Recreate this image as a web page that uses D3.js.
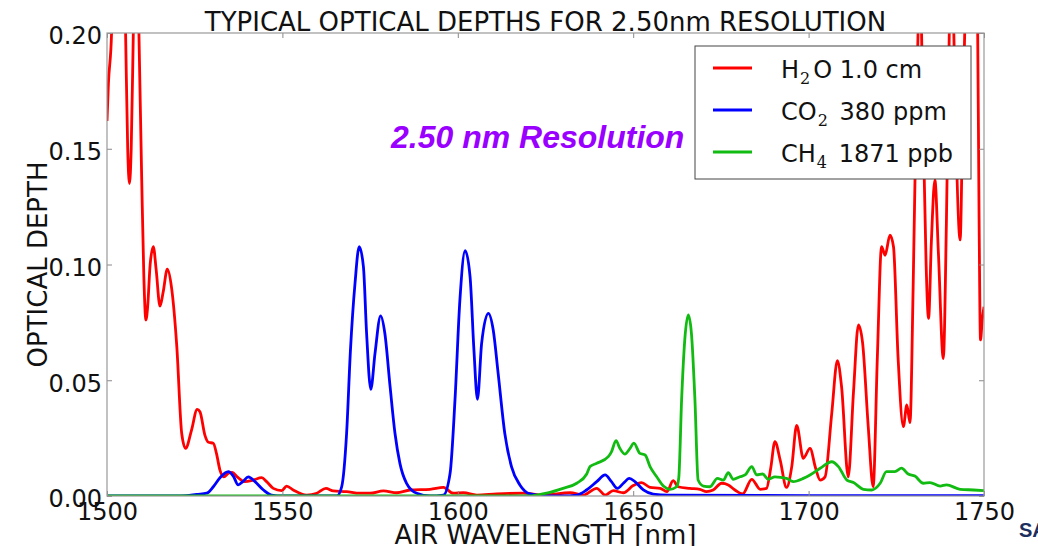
<!DOCTYPE html>
<html>
<head>
<meta charset="utf-8">
<script src="https://cdn.jsdelivr.net/npm/d3@7"></script>
<style>
  body { margin: 0; background: #fff; }
  svg { display: block; }
</style>
</head>
<body>
<div id="chart"></div>
<script>

// wavelength [nm] and optical depth for each gas
var h2oNm = [1500.0, 1500.4, 1501.3, 1502.0, 1503.2, 1504.5, 1505.3, 1505.9, 1506.4, 1506.9, 1507.5, 1508.3, 1509.1, 1509.9, 1510.5, 1511.1, 1511.6, 1512.3, 1513.2, 1514.0, 1515.1, 1516.0, 1517.2, 1518.4, 1519.9, 1521.3, 1522.4, 1524.1, 1525.7, 1526.5, 1527.9, 1528.9, 1530.3, 1531.2, 1532.2, 1533.3, 1534.6, 1535.7, 1537.1, 1539.3, 1541.7, 1544.1, 1545.5, 1547.4, 1549.8, 1551.2, 1553.1, 1556.9, 1559.8, 1562.4, 1564.5, 1568.3, 1572.0, 1575.0, 1578.8, 1582.6, 1586.4, 1592.1, 1595.9, 1598.7, 1601.6, 1605.4, 1611.1, 1618.7, 1624.4, 1632.0, 1635.8, 1639.6, 1642.0, 1644.3, 1647.2, 1650.0, 1652.4, 1654.8, 1657.7, 1659.6, 1661.4, 1662.8, 1666.2, 1669.0, 1670.9, 1672.8, 1675.2, 1677.1, 1679.0, 1681.2, 1683.8, 1686.2, 1688.0, 1689.2, 1690.4, 1691.9, 1693.7, 1695.2, 1696.6, 1698.5, 1700.4, 1702.0, 1703.3, 1704.7, 1706.6, 1708.2, 1709.4, 1711.3, 1712.8, 1714.2, 1715.4, 1717.0, 1718.4, 1719.6, 1720.8, 1721.8, 1723.2, 1724.2, 1725.5, 1727.0, 1728.0, 1728.9, 1729.8, 1730.6, 1731.2, 1731.7, 1732.2, 1732.8, 1733.5, 1734.2, 1735.0, 1736.0, 1737.0, 1738.4, 1739.3, 1740.1, 1740.8, 1741.4, 1742.1, 1743.2, 1743.9, 1744.5, 1746.5, 1748.2, 1748.6, 1749.0, 1749.5, 1750.0];
var h2oOD = [0.162, 0.178, 0.200, 0.26, 0.32, 0.26, 0.200, 0.150, 0.135, 0.150, 0.200, 0.27, 0.200, 0.1365, 0.095, 0.076, 0.082, 0.100, 0.1077, 0.098, 0.082, 0.088, 0.098, 0.090, 0.0645, 0.027, 0.0206, 0.0285, 0.0374, 0.0364, 0.0263, 0.0232, 0.0228, 0.0184, 0.0112, 0.0083, 0.0098, 0.0102, 0.0083, 0.0062, 0.0069, 0.0079, 0.0062, 0.0033, 0.0023, 0.0043, 0.0026, 0.0004, 0.0012, 0.0033, 0.0022, 0.0019, 0.0012, 0.0012, 0.0022, 0.0014, 0.0026, 0.0029, 0.0037, 0.0012, 0.0014, 0.0004, 0.0009, 0.0012, 0.0004, 0.0014, 0.0004, 0.0033, 0.0004, 0.0023, 0.0014, 0.0045, 0.0058, 0.0037, 0.0033, 0.0019, 0.0066, 0.0040, 0.0033, 0.0029, 0.0019, 0.0026, 0.0055, 0.0048, 0.0026, 0.0009, 0.0072, 0.0029, 0.0033, 0.012, 0.0235, 0.0155, 0.0037, 0.0127, 0.0305, 0.0163, 0.0206, 0.012, 0.0069, 0.0083, 0.0357, 0.0585, 0.0472, 0.0083, 0.045, 0.0739, 0.066, 0.030, 0.004, 0.06, 0.1077, 0.104, 0.1127, 0.1077, 0.06, 0.030, 0.0393, 0.0317, 0.09, 0.16, 0.200, 0.24, 0.200, 0.15, 0.10, 0.0767, 0.11, 0.1365, 0.105, 0.0594, 0.12, 0.200, 0.25, 0.200, 0.15, 0.1106, 0.16, 0.200, 0.30, 0.200, 0.12, 0.0674, 0.076, 0.0818];

var co2Nm = [1500.0, 1520.0, 1522.7, 1525.5, 1528.4, 1530.3, 1532.2, 1534.6, 1536.0, 1537.4, 1538.7, 1540.3, 1542.2, 1544.6, 1546.9, 1550.0, 1565.5, 1566.9, 1568.3, 1569.4, 1570.7, 1571.9, 1573.1, 1574.0, 1575.2, 1576.4, 1578.0, 1579.2, 1580.7, 1582.1, 1583.5, 1585.4, 1588.3, 1592.1, 1595.9, 1597.8, 1599.2, 1600.6, 1602.1, 1603.5, 1604.6, 1605.6, 1606.8, 1608.7, 1610.1, 1611.5, 1613.4, 1615.3, 1617.7, 1620.6, 1625.3, 1630.0, 1633.9, 1636.7, 1639.6, 1642.0, 1643.8, 1645.5, 1647.2, 1648.9, 1650.5, 1652.9, 1655.7, 1660.0, 1700.0, 1750.0];
var co2OD = [0, 0, 0.0001, 0.0007, 0.0012, 0.004, 0.0079, 0.0105, 0.0086, 0.0048, 0.0062, 0.0083, 0.0062, 0.0026, 0.0004, 0, 0, 0.004, 0.027, 0.063, 0.0919, 0.1077, 0.099, 0.0703, 0.0461, 0.0616, 0.0778, 0.0703, 0.0472, 0.027, 0.0141, 0.0055, 0.0012, 0, 0.0004, 0.0098, 0.0415, 0.0847, 0.106, 0.0947, 0.063, 0.0418, 0.066, 0.0789, 0.0717, 0.053, 0.027, 0.0127, 0.0048, 0.0009, 0, 0, 0.0004, 0.0026, 0.0062, 0.0091, 0.0062, 0.0033, 0.0055, 0.0076, 0.0062, 0.0026, 0.0008, 0.0004, 0.0002, 0.0001];

var ch4Nm = [1500.0, 1620.0, 1622.6, 1625.3, 1630.0, 1633.9, 1636.7, 1637.7, 1639.6, 1642.9, 1643.8, 1645.1, 1646.2, 1647.6, 1649.1, 1650.2, 1651.9, 1653.4, 1654.8, 1656.7, 1658.6, 1660.5, 1662.4, 1663.0, 1663.8, 1664.7, 1665.7, 1666.6, 1667.6, 1668.5, 1670.0, 1671.9, 1674.0, 1675.7, 1677.1, 1678.5, 1680.4, 1681.9, 1683.8, 1685.2, 1686.9, 1688.5, 1690.4, 1693.7, 1695.6, 1698.5, 1700.4, 1703.3, 1706.6, 1708.5, 1710.9, 1712.8, 1715.6, 1718.0, 1720.4, 1722.2, 1724.6, 1726.5, 1728.4, 1730.3, 1732.7, 1734.6, 1737.5, 1739.3, 1743.2, 1747.0, 1750.0];
var ch4OD = [0, 0, 0.0004, 0.0012, 0.0033, 0.0055, 0.0094, 0.0127, 0.0141, 0.017, 0.0191, 0.0239, 0.0206, 0.0181, 0.0206, 0.0228, 0.0184, 0.0177, 0.0127, 0.0083, 0.0043, 0.0029, 0.004, 0.008, 0.0415, 0.0674, 0.0782, 0.0703, 0.0415, 0.0069, 0.0043, 0.004, 0.0076, 0.0069, 0.0101, 0.0072, 0.0083, 0.0091, 0.0127, 0.0091, 0.0095, 0.0072, 0.0083, 0.0076, 0.0062, 0.0076, 0.0091, 0.012, 0.0148, 0.0127, 0.0069, 0.0058, 0.0029, 0.0026, 0.0055, 0.0105, 0.0105, 0.012, 0.0095, 0.0086, 0.0055, 0.0058, 0.0043, 0.0048, 0.0029, 0.0026, 0.0023];

// legend text: molecule letters, subscript digit, amount
var gasNames = ["H", "CO", "CH"];
var gasSubs = ["2", "2", "4"];
var gasAfter = ["O 1.0 cm", " 380 ppm", " 1871 ppb"];
var gasColors = ["#ff0000", "#0000ff", "#11bb11"];

var xTicks = [1500, 1550, 1600, 1650, 1700, 1750];
var yTicks = [0, 0.05, 0.10, 0.15, 0.20];

var W = 1038, H = 546;
var margin = {top: 33, right: 54, bottom: 50, left: 107},
    width = W - margin.left - margin.right,
    height = H - margin.top - margin.bottom;

var font = "'DejaVu Sans', sans-serif";

var x = d3.scaleLinear().domain([1500, 1750]).range([0, width]);
var y = d3.scaleLinear().domain([0, 0.2]).range([height, 0]);

var svg = d3.select("#chart").append("svg")
    .attr("width", W)
    .attr("height", H);

svg.append("defs").append("clipPath")
    .attr("id", "plotclip")
  .append("rect")
    .attr("width", width)
    .attr("height", height);

var g = svg.append("g")
    .attr("transform", "translate(" + margin.left + "," + margin.top + ")");

// the three curves, clipped at the axes like matplotlib does
var line = d3.line()
    .x(function(d) { return x(d[0]); })
    .y(function(d) { return y(d[1]); })
    .curve(d3.curveMonotoneX);

var series = [d3.zip(h2oNm, h2oOD), d3.zip(co2Nm, co2OD), d3.zip(ch4Nm, ch4OD)];

g.append("g")
    .attr("clip-path", "url(#plotclip)")
  .selectAll("path")
  .data(series)
  .enter().append("path")
    .attr("d", line)
    .attr("fill", "none")
    .attr("stroke", function(d, i) { return gasColors[i]; })
    .attr("stroke-width", 2.8)
    .attr("stroke-linejoin", "round");

// axes, ticks pointing inwards on all four sides
function styleAxis(sel) {
  sel.select(".domain").remove();
  sel.selectAll(".tick line").attr("stroke", "#888");
  sel.selectAll("text")
      .attr("fill", "#111")
      .attr("font-family", font)
      .attr("font-size", 24);
}

g.append("g")
    .attr("transform", "translate(0," + height + ")")
    .call(d3.axisBottom(x).tickValues(xTicks).tickFormat(d3.format("d")).tickSize(-5).tickPadding(7))
    .call(styleAxis);

g.append("g")
    .call(d3.axisTop(x).tickValues(xTicks).tickFormat("").tickSize(-5))
    .call(styleAxis);

g.append("g")
    .call(d3.axisLeft(y).tickValues(yTicks).tickFormat(d3.format(".2f")).tickSize(-5).tickPadding(5))
    .call(styleAxis)
    .selectAll("text").attr("dy", "0.45em");

g.append("g")
    .attr("transform", "translate(" + width + ",0)")
    .call(d3.axisRight(y).tickValues(yTicks).tickFormat("").tickSize(-5))
    .call(styleAxis);

// frame
g.append("rect")
    .attr("width", width)
    .attr("height", height)
    .attr("fill", "none")
    .attr("stroke", "#999")
    .attr("stroke-width", 1.2);

// titles
svg.append("text")
    .attr("x", margin.left + width / 2)
    .attr("y", 31)
    .attr("text-anchor", "middle")
    .attr("font-family", font)
    .attr("font-size", 26)
    .attr("fill", "#111")
    .text("TYPICAL OPTICAL DEPTHS FOR 2.50nm RESOLUTION");

svg.append("text")
    .attr("x", margin.left + width / 2)
    .attr("y", 544)
    .attr("text-anchor", "middle")
    .attr("font-family", font)
    .attr("font-size", 26)
    .attr("fill", "#111")
    .text("AIR WAVELENGTH [nm]");

svg.append("text")
    .attr("transform", "rotate(-90)")
    .attr("x", -(margin.top + height / 2))
    .attr("y", 47)
    .attr("text-anchor", "middle")
    .attr("font-family", font)
    .attr("font-size", 26)
    .attr("fill", "#111")
    .text("OPTICAL DEPTH");

// purple annotation
svg.append("text")
    .attr("x", 391)
    .attr("y", 148)
    .attr("font-family", "'Liberation Sans', Arial, sans-serif")
    .attr("font-size", 32)
    .attr("font-weight", "bold")
    .attr("font-style", "italic")
    .attr("fill", "#9900ff")
    .text("2.50 nm Resolution");

// legend
var legend = svg.append("g").attr("transform", "translate(695,46)");

legend.append("rect")
    .attr("width", 276)
    .attr("height", 133)
    .attr("fill", "#fff")
    .attr("stroke", "#444")
    .attr("stroke-width", 1);

var item = legend.selectAll(".item")
    .data(gasNames)
  .enter().append("g")
    .attr("class", "item")
    .attr("transform", function(d, i) { return "translate(0," + (22 + i * 42) + ")"; });

item.append("line")
    .attr("x1", 18)
    .attr("x2", 57)
    .attr("stroke", function(d, i) { return gasColors[i]; })
    .attr("stroke-width", 2.8);

var label = item.append("text")
    .attr("x", 86)
    .attr("y", 10)
    .attr("font-family", font)
    .attr("font-size", 24)
    .attr("fill", "#111");

label.append("tspan").text(function(d) { return d; });
label.append("tspan")
    .attr("dx", 1)
    .attr("dy", 6)
    .attr("font-family", "'DejaVu Serif', serif")
    .attr("font-size", 16)
    .text(function(d, i) { return gasSubs[i]; });
label.append("tspan")
    .attr("dx", function(d, i) { return i === 0 ? 3 : 4; })
    .attr("dy", -6)
    .text(function(d, i) { return gasAfter[i]; });

// logo fragment at the bottom right
svg.append("text")
    .attr("x", 1019)
    .attr("y", 537)
    .attr("font-family", "'Liberation Sans', Arial, sans-serif")
    .attr("font-size", 20)
    .attr("font-weight", "bold")
    .attr("fill", "#1c2f5e")
    .text("SAO");

</script>
</body>
</html>
